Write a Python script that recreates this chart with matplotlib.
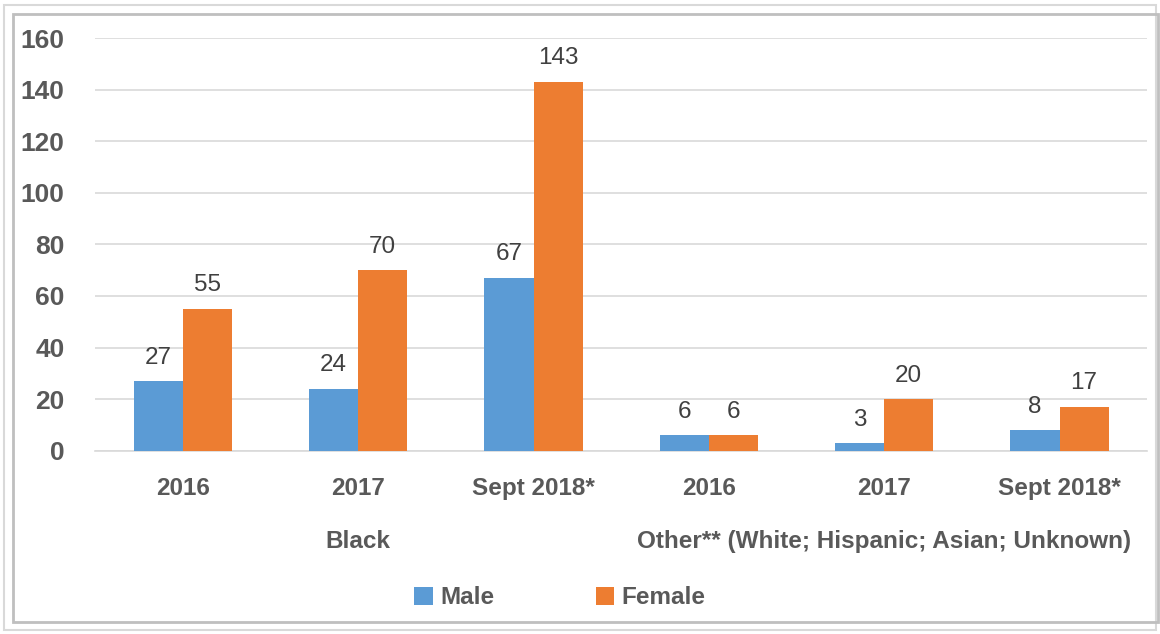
#!/usr/bin/env python3
"""Male/female counts by year, Black vs Other, clustered bar chart."""

import matplotlib

matplotlib.use("Agg")
import matplotlib.pyplot as plt
from matplotlib.patches import Rectangle
import numpy as np

plt.rcParams["font.family"] = ["Liberation Sans", "DejaVu Sans"]

years = ["2016", "2017", "Sept 2018*", "2016", "2017", "Sept 2018*"]
groups = ["Black", "Other** (White; Hispanic; Asian; Unknown)"]
male = [27, 24, 67, 6, 3, 8]
female = [55, 70, 143, 6, 20, 17]

BLUE = "#5B9BD5"
ORANGE = "#ED7D31"
GREY = "#595959"

fig = plt.figure(figsize=(11.6, 6.34), dpi=100)
ax = fig.add_axes([0.082, 0.289, 0.907, 0.651])

x = np.arange(len(years))
width = 0.28
bars_m = ax.bar(x - width / 2, male, width, color=BLUE, label="Male", zorder=3)
bars_f = ax.bar(x + width / 2, female, width, color=ORANGE, label="Female", zorder=3)

for bars in (bars_m, bars_f):
    for bar in bars:
        ax.annotate(
            f"{bar.get_height():.0f}",
            (bar.get_x() + bar.get_width() / 2, bar.get_height()),
            xytext=(0, 9),
            textcoords="offset points",
            ha="center",
            va="bottom",
            fontsize=17.5,
            color="#404040",
        )

ax.set_xlim(-0.5, len(years) - 0.5)
ax.set_ylim(0, 160)
ax.set_yticks(np.arange(0, 161, 20))
ax.set_xticks(x)
ax.set_xticklabels(years)
ax.tick_params(axis="both", length=0, colors=GREY)
ax.tick_params(axis="x", pad=19, labelsize=17.5)
ax.tick_params(axis="y", pad=22, labelsize=19)
for lab in ax.get_xticklabels() + ax.get_yticklabels():
    lab.set_fontweight("bold")
ax.grid(axis="y", color="#D9D9D9", linewidth=1.2, zorder=0)
for side in ("top", "right", "left"):
    ax.spines[side].set_visible(False)
ax.spines["bottom"].set_color("#D9D9D9")
ax.spines["bottom"].set_linewidth(1.2)

# group labels under the year labels
for i, name in enumerate(groups):
    ax.text(
        i * 3 + 1,
        -91 / 413,
        name,
        transform=ax.get_xaxis_transform(),
        ha="center",
        va="center",
        fontsize=17.5,
        fontweight="bold",
        color=GREY,
    )

fig.legend(
    handles=[bars_m, bars_f],
    loc="center",
    bbox_to_anchor=(560 / 1160, 1 - 598 / 634),
    ncol=2,
    frameon=False,
    handlelength=0.75,
    handleheight=0.75,
    handletextpad=0.3,
    columnspacing=4.2,
    prop={"weight": "bold", "size": 17.5},
    labelcolor=GREY,
)

# chart frame with soft shadow
fig.patches.append(
    Rectangle((4 / 1160, 4 / 634), 1152 / 1160, 625 / 634, transform=fig.transFigure,
              fill=False, edgecolor="#D9D9D9", linewidth=1.5)
)
fig.patches.append(
    Rectangle((13 / 1160, 12 / 634), 1145 / 1160, 608 / 634, transform=fig.transFigure,
              fill=False, edgecolor="#BFBFBF", linewidth=2.0)
)

fig.savefig("out.png", dpi=100)
plt.close(fig)
